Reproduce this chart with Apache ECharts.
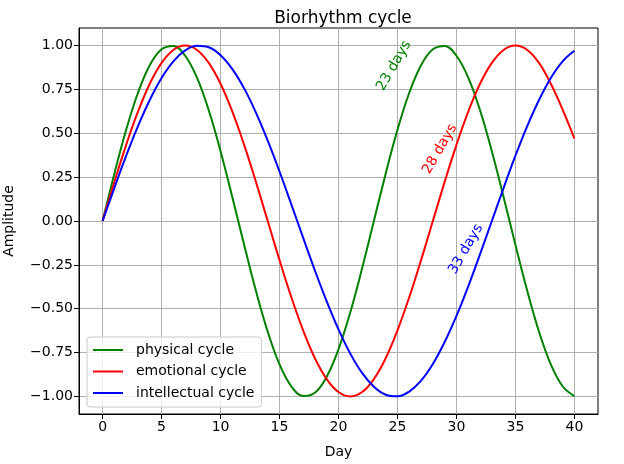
<!DOCTYPE html>
<html>
<head>
<meta charset="utf-8">
<title>Biorhythm cycle</title>
<script src="https://cdn.jsdelivr.net/npm/echarts@6/dist/echarts.min.js"></script>
<style>
    html, body { margin: 0; padding: 0; background: #fff; }
    #chart { width: 624px; height: 464px; }
</style>
</head>
<body>
<div id="chart"></div>
<script>
// 数据：天数 + 三条周期曲线
var days = [0, 1, 2, 3, 4, 5, 6, 7, 8, 9, 10, 11, 12, 13, 14, 15, 16, 17, 18, 19, 20,
    21, 22, 23, 24, 25, 26, 27, 28, 29, 30, 31, 32, 33, 34, 35, 36, 37, 38, 39, 40];

var physical = [0, 0.270, 0.520, 0.731, 0.888, 0.979, 0.998, 0.942, 0.817, 0.631, 0.398,
    0.136, -0.136, -0.398, -0.631, -0.817, -0.942, -0.998, -0.979, -0.888, -0.731,
    -0.520, -0.270, 0, 0.270, 0.520, 0.731, 0.888, 0.979, 0.998, 0.942,
    0.817, 0.631, 0.398, 0.136, -0.136, -0.398, -0.631, -0.817, -0.942, -0.998];

var emotional = [0, 0.223, 0.434, 0.623, 0.782, 0.901, 0.975, 1.000, 0.975, 0.901, 0.782,
    0.623, 0.434, 0.223, 0, -0.223, -0.434, -0.623, -0.782, -0.901, -0.975,
    -1.000, -0.975, -0.901, -0.782, -0.623, -0.434, -0.223, 0, 0.223, 0.434,
    0.623, 0.782, 0.901, 0.975, 1.000, 0.975, 0.901, 0.782, 0.635, 0.470];

var intellectual = [0, 0.189, 0.372, 0.541, 0.690, 0.815, 0.910, 0.972, 0.999, 0.990, 0.945,
    0.866, 0.756, 0.618, 0.458, 0.282, 0.095, -0.095, -0.282, -0.458, -0.618,
    -0.756, -0.866, -0.945, -0.990, -0.999, -0.972, -0.910, -0.815, -0.690, -0.541,
    -0.372, -0.189, 0, 0.189, 0.372, 0.541, 0.690, 0.815, 0.910, 0.970];

var seriesNames = ['physical cycle', 'emotional cycle', 'intellectual cycle'];
var seriesColors = ['#008000', '#ff0000', '#0000ff'];

// 刻度
var xTicks = [0, 5, 10, 15, 20, 25, 30, 35, 40];
var yTicks = [-1, -0.75, -0.5, -0.25, 0, 0.25, 0.5, 0.75, 1];

// 斜着的文字标注 (位置为数据坐标)
var noteText = ['23 days', '28 days', '33 days'];
var noteDay = [24.7, 28.6, 30.8];
var noteAmp = [0.885, 0.41, -0.16];

var font = 'DejaVu Sans';

function pairs(ys) {
    var out = [];
    for (var i = 0; i < days.length; i++) {
        out.push([days[i], ys[i]]);
    }
    return out;
}

var allData = [physical, emotional, intellectual];
var series = [];
for (var i = 0; i < 3; i++) {
    series.push({
        name: seriesNames[i],
        type: 'line',
        data: pairs(allData[i]),
        smooth: 0.4,
        symbol: 'none',
        lineStyle: { color: seriesColors[i], width: 2 },
        itemStyle: { color: seriesColors[i] },
        markPoint: {
            symbol: 'circle',
            symbolSize: 0,
            silent: true,
            data: [{
                name: noteText[i],
                coord: [noteDay[i], noteAmp[i]]
            }],
            label: {
                show: true,
                position: 'inside',
                formatter: '{b}',
                rotate: 60,
                color: seriesColors[i],
                fontFamily: font,
                fontSize: 14
            }
        }
    });
}

var option = {
    backgroundColor: '#fff',
    animation: false,
    title: {
        text: 'Biorhythm cycle',
        left: 338,
        textAlign: 'center',
        top: 5,
        textStyle: { fontFamily: font, fontSize: 17, fontWeight: 'normal', color: '#000' }
    },
    legend: {
        orient: 'vertical',
        left: 87,
        top: 337,
        data: seriesNames,
        itemWidth: 30,
        itemHeight: 14,
        itemGap: 7.5,
        padding: [6, 7, 7, 5],
        itemStyle: { opacity: 0 },
        lineStyle: { width: 2 },
        backgroundColor: 'rgba(255,255,255,0.8)',
        borderColor: '#cccccc',
        borderWidth: 1,
        borderRadius: 3,
        textStyle: { fontFamily: font, fontSize: 14, color: '#000', padding: [0, 0, 0, 8] }
    },
    grid: {
        left: 79,
        right: 26,
        top: 28,
        bottom: 50,
        containLabel: false,
        outerBoundsMode: 'none',
        show: true,
        borderColor: '#000',
        borderWidth: 1
    },
    xAxis: {
        type: 'value',
        min: -2,
        max: 42,
        name: 'Day',
        nameLocation: 'middle',
        nameGap: 31,
        nameTextStyle: { fontFamily: font, fontSize: 14, color: '#000' },
        axisLine: { show: true, onZero: false, lineStyle: { color: '#000', width: 1 } },
        axisTick: { show: true, inside: false, length: 5, lineStyle: { color: '#000' }, customValues: xTicks },
        axisLabel: { customValues: xTicks, margin: 6, fontFamily: font, fontSize: 14, color: '#000' },
        splitLine: { show: true, lineStyle: { color: '#b0b0b0', width: 1 } }
    },
    yAxis: {
        type: 'value',
        min: -1.1,
        max: 1.1,
        name: 'Amplitude',
        nameLocation: 'middle',
        nameGap: 63,
        nameTextStyle: { fontFamily: font, fontSize: 14, color: '#000' },
        axisLine: { show: true, onZero: false, lineStyle: { color: '#000', width: 1 } },
        axisTick: { show: true, inside: false, length: 5, lineStyle: { color: '#000' }, customValues: yTicks },
        axisLabel: {
            customValues: yTicks,
            margin: 6,
            fontFamily: font,
            fontSize: 14,
            color: '#000',
            formatter: function (v) {
                var s = Math.abs(v).toFixed(2);
                return v < 0 ? '\u2212' + s : s;
            }
        },
        splitLine: { show: true, lineStyle: { color: '#b0b0b0', width: 1 } }
    },
    series: series
};

var myChart = echarts.init(document.getElementById('chart'));
myChart.setOption(option);
</script>
</body>
</html>
